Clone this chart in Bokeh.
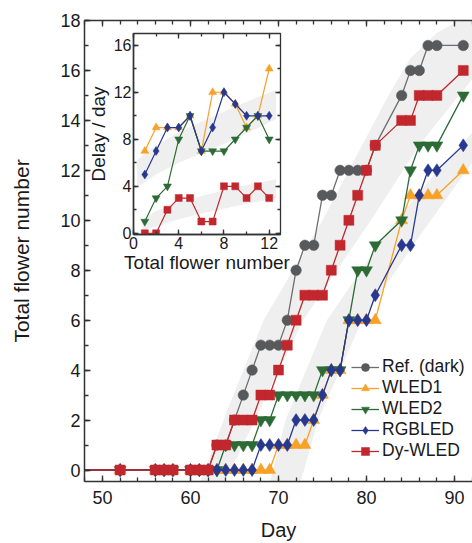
from bokeh.plotting import figure
from bokeh.models import (Range1d, LinearAxis, FixedTicker, Legend, LegendItem,
                          CustomJSTickFormatter)
from bokeh.embed import file_html
from bokeh.resources import INLINE

# ---------------- main plot data ----------------
days = [40, 52, 56, 57, 58, 60, 61, 62, 63, 64, 65, 66, 67, 68, 69, 70, 71, 72, 73,
        74, 75, 76, 77, 78, 79, 80, 81, 84, 85, 86, 87, 88, 91]
ref_dark = [0, 0, 0, 0, 0, 0, 0, 0, 1, 1, 2, 3, 4, 5, 5, 5, 6, 8, 9,
            9, 11, 11, 12, 12, 12, 12, 13, 15, 16, 16, 17, 17, 17]
wled1 = [0, 0, 0, 0, 0, 0, 0, 0, 0, 0, 0, 0, 0, 0, 0, 1, 1, 1, 1,
         2, 3, 4, 4, 6, 6, 6, 6, 10, 11, 11, 11, 11, 12]
wled2 = [0, 0, 0, 0, 0, 0, 0, 0, 0, 1, 1, 1, 1, 2, 2, 3, 3, 3, 3,
         3, 4, 4, 4, 6, 8, 8, 9, 10, 12, 13, 13, 13, 15]
rgbled = [0, 0, 0, 0, 0, 0, 0, 0, 0, 0, 0, 0, 0, 1, 1, 1, 1, 2, 2,
          2, 3, 4, 4, 6, 6, 6, 7, 9, 9, 11, 12, 12, 13]
dy_wled = [0, 0, 0, 0, 0, 0, 0, 0, 1, 1, 2, 2, 2, 3, 3, 4, 5, 6, 7,
           7, 7, 8, 9, 10, 11, 12, 13, 14, 14, 15, 15, 15, 16]

# shaded guide bands of the main plot (flower-number levels and day edges)
band1_y = [-0.5, 2.5, 6, 10, 13, 15, 16.5, 17.5, 18.3]
band1_left = [61.1, 64.3, 68.3, 75.0, 79.5, 82.5, 85.0, 88.0, 92.0]
band1_right = [63.9, 68.0, 72.8, 80.5, 86.0, 90.5, 94.0, 97.0, 99.0]
band2_y = [-0.5, 2, 6, 9.6, 12.3, 13.5, 15]
band2_left = [69.0, 70.8, 75.5, 82.5, 88.8, 92.0, 95.0]
band2_right = [72.5, 74.5, 79.5, 86.5, 92.0, 94.5, 97.0]

# ---------------- inset data ----------------
flowers = [1, 2, 3, 4, 5, 6, 7, 8, 9, 10, 11, 12]
delay_wled1 = [7, 9, 9, 9, 10, 7, 12, 12, 11, 9, 10, 14]
delay_wled2 = [1, 3, 4, 8, 10, 7, 7, 7, 8, 9, 10, 8]
delay_rgbled = [5, 7, 9, 9, 10, 7, 9, 12, 11, 10, 10, 10]
delay_dy_wled = [0, 0, 2, 3, 3, 1, 1, 4, 4, 3, 4, 3]

iband1_x = [0.3, 2, 4, 6.5, 9, 12.6]
iband1_lo = [3.9, 5.0, 6.0, 7.0, 8.0, 9.7]
iband1_hi = [6.2, 7.5, 8.6, 9.7, 10.8, 12.2]
iband2_x = [0.8, 2, 4, 6.5, 9, 12.6]
iband2_lo = [0.2, 0.6, 1.2, 1.8, 2.3, 3.0]
iband2_hi = [1.2, 1.9, 2.6, 3.3, 3.9, 4.6]

names = ["Ref. (dark)", "WLED1", "WLED2", "RGBLED", "Dy-WLED"]
colors = {"Ref. (dark)": "#58595b", "WLED1": "#f8a128", "WLED2": "#2c6b35",
          "RGBLED": "#27388e", "Dy-WLED": "#c1272d"}
line_colors = {"Ref. (dark)": "#6d6e70", "WLED1": "#f8a128", "WLED2": "#2c6b35",
               "RGBLED": "#27388e", "Dy-WLED": "#c1272d"}
markers = {"Ref. (dark)": "circle", "WLED1": "triangle", "WLED2": "inverted_triangle",
           "RGBLED": "diamond", "Dy-WLED": "square"}
sizes = {"Ref. (dark)": 10.5, "WLED1": 12, "WLED2": 12, "RGBLED": 13, "Dy-WLED": 10}
isizes = {"WLED1": 8, "WLED2": 8, "RGBLED": 9, "Dy-WLED": 7}

FONT = "Liberation Sans"
BAND = "#efefef"
blank = CustomJSTickFormatter(code="return ''")

# ---------------- main figure ----------------
p = figure(width=472, height=543, x_range=Range1d(47.95, 92.05), y_range=Range1d(-0.46, 18),
           output_backend="svg", toolbar_location=None,
           min_border_left=84, min_border_right=0, min_border_top=20, min_border_bottom=60)
p.outline_line_color = None
p.xgrid.visible = False
p.ygrid.visible = False
p.background_fill_color = "white"

p.patch(band1_left + band1_right[::-1], band1_y + band1_y[::-1],
        fill_color=BAND, line_color=None)
p.patch(band2_left + band2_right[::-1], band2_y + band2_y[::-1],
        fill_color=BAND, line_color=None)

series = {"Ref. (dark)": ref_dark, "WLED1": wled1, "WLED2": wled2,
          "RGBLED": rgbled, "Dy-WLED": dy_wled}
items = []
for n in names:
    l = p.line(days, series[n], line_color=line_colors[n], line_width=1.3)
    s = p.scatter(days, series[n], marker=markers[n], size=sizes[n],
                  fill_color=colors[n], line_color=colors[n], line_width=0.5)
    items.append(LegendItem(label=n, renderers=[l, s]))

xt = FixedTicker(ticks=[50, 60, 70, 80, 90], minor_ticks=list(range(48, 93, 2)))
yt = FixedTicker(ticks=list(range(0, 19, 2)), minor_ticks=list(range(0, 19)))


def style_axis(ax, labels=True):
    ax.axis_line_color = "#333333"
    ax.axis_line_width = 1.5
    ax.major_tick_line_color = "#333333"
    ax.minor_tick_line_color = "#333333"
    ax.major_tick_line_width = 1.3
    ax.minor_tick_line_width = 1.3
    ax.major_tick_in = 6
    ax.major_tick_out = 0
    ax.minor_tick_in = 4
    ax.minor_tick_out = 0
    ax.major_label_text_font = FONT
    ax.major_label_text_color = "#1a1a1a"
    ax.axis_label_text_font = FONT
    ax.axis_label_text_font_style = "normal"
    ax.axis_label_text_color = "#1a1a1a"
    if not labels:
        ax.formatter = blank
        ax.major_label_standoff = 0


p.xaxis.ticker = xt
p.yaxis.ticker = yt
style_axis(p.xaxis[0])
style_axis(p.yaxis[0])
p.xaxis.major_label_text_font_size = "18px"
p.yaxis.major_label_text_font_size = "18px"
p.xaxis.major_label_standoff = 9
p.yaxis.major_label_standoff = 4
p.xaxis.axis_label = "Day"
p.yaxis.axis_label = "Total flower number"
p.xaxis.axis_label_text_font_size = "20px"
p.yaxis.axis_label_text_font_size = "21px"
p.xaxis.axis_label_standoff = 12
p.yaxis.axis_label_standoff = 24

top = LinearAxis(ticker=xt)
style_axis(top, labels=False)
p.add_layout(top, "above")

legend = Legend(items=items, location=(267, 20))
legend.background_fill_alpha = 0
legend.border_line_color = None
legend.label_text_font = FONT
legend.label_text_font_size = "17.5px"
legend.label_text_color = "#1a1a1a"
legend.glyph_width = 28
legend.glyph_height = 20
legend.label_height = 20
legend.spacing = 0
legend.padding = 0
legend.margin = 0
legend.label_standoff = 3
p.add_layout(legend)

# ---------------- inset figure ----------------
q = figure(width=209, height=251, x_range=Range1d(0, 13), y_range=Range1d(-0.1, 17),
           output_backend="svg", toolbar_location=None,
           min_border_left=50, min_border_right=12, min_border_top=5, min_border_bottom=45,
           background_fill_color=None, border_fill_color=None)
q.styles = {"position": "absolute", "left": "83px", "top": "28px", "z-index": "2"}
q.outline_line_color = "#333333"
q.outline_line_width = 1.3
q.xgrid.visible = False
q.ygrid.visible = False

q.patch(iband1_x + iband1_x[::-1], iband1_lo + iband1_hi[::-1],
        fill_color=BAND, line_color=None)
q.patch(iband2_x + iband2_x[::-1], iband2_lo + iband2_hi[::-1],
        fill_color=BAND, line_color=None)

delays = {"WLED1": delay_wled1, "WLED2": delay_wled2, "RGBLED": delay_rgbled,
          "Dy-WLED": delay_dy_wled}
for n in ["WLED1", "WLED2", "RGBLED", "Dy-WLED"]:
    q.line(flowers, delays[n], line_color=line_colors[n], line_width=1.2)
    q.scatter(flowers, delays[n], marker=markers[n], size=isizes[n],
              fill_color=colors[n], line_color=colors[n], line_width=0.5)

ixt = FixedTicker(ticks=[0, 4, 8, 12], minor_ticks=[0, 2, 4, 6, 8, 10, 12])
iyt = FixedTicker(ticks=[0, 4, 8, 12, 16], minor_ticks=[0, 2, 4, 6, 8, 10, 12, 14, 16])
q.xaxis.ticker = ixt
q.yaxis.ticker = iyt
style_axis(q.xaxis[0])
style_axis(q.yaxis[0])
for ax in (q.xaxis[0], q.yaxis[0]):
    ax.major_tick_in = 5
    ax.minor_tick_in = 3
    ax.major_label_text_font_size = "16px"
    ax.axis_label_text_font_size = "19px"
q.xaxis.major_label_standoff = 2
q.yaxis.major_label_standoff = 2
q.xaxis.axis_label = "Total flower number"
q.yaxis.axis_label = "Delay / day"
q.xaxis.axis_label_standoff = 0
q.yaxis.axis_label_standoff = 2

itop = LinearAxis(ticker=ixt)
style_axis(itop, labels=False)
itop.major_tick_in = 5
itop.minor_tick_in = 3
itop.axis_line_color = None
q.add_layout(itop, "above")
iright = LinearAxis(ticker=iyt)
style_axis(iright, labels=False)
iright.major_tick_in = 5
iright.minor_tick_in = 3
iright.axis_line_color = None
q.add_layout(iright, "right")

open("out.html", "w").write(file_html([p, q], INLINE))
